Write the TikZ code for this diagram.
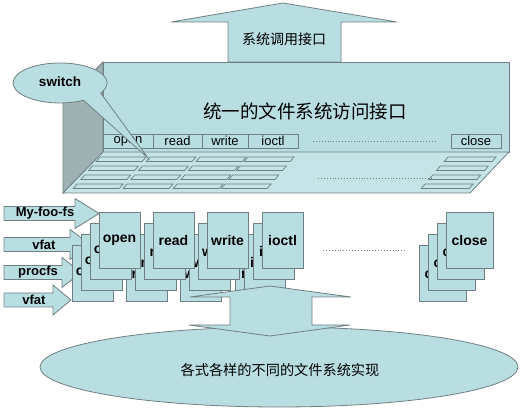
\documentclass[tikz,border=0pt]{standalone}
\usepackage{fontspec}
\setmainfont{Liberation Sans}
\newfontfamily\cjkf{Noto Sans CJK SC}
\usetikzlibrary{calc}
\definecolor{face}{RGB}{185,222,226}
\definecolor{sidec}{RGB}{158,178,180}
\definecolor{edgec}{RGB}{112,128,130}
\definecolor{floorc}{RGB}{196,228,231}
\tikzset{
  shp/.style={fill=face, draw=edgec, line width=0.8pt},
  slot/.style={fill=floorc, draw=edgec, line width=0.7pt},
  fnbox/.style={fill=face, draw=edgec, line width=0.8pt, inner sep=0pt, minimum height=14pt, font=\fontsize{13}{13}\selectfont},
  card/.style={fill=face, draw=edgec, line width=0.8pt, inner sep=0pt, minimum height=56pt, font=\bfseries\fontsize{14}{14}\selectfont},
  arrlbl/.style={inner sep=0pt, font=\bfseries\fontsize{13}{13}\selectfont},
  dots/.style={draw=edgec, dotted, line width=0.9pt}
}
\begin{document}
\begin{tikzpicture}[x=1pt,y=-1pt]
\useasboundingbox (0,0) rectangle (523,409);
% top up arrow
\draw[shp] (283,3) -- (397,22) -- (341,22) -- (341,62) -- (228,62) -- (228,22) -- (171,22) -- cycle;
\node[font=\cjkf\fontsize{14}{14}\selectfont] (syscall) at (284,39) {系统调用接口};
% box
\draw[fill=sidec, draw=edgec, line width=0.8pt] (103,62) -- (63,102) -- (63,193) -- (103,152) -- cycle;
\draw[shp] (103,62) rectangle (509,152);
\draw[fill=floorc, draw=edgec, line width=0.8pt] (103,152) -- (509,152) -- (470,193) -- (63,193) -- cycle;
\foreach \t in {157,166,175,184}{
  \foreach \x in {100,150,200,248}{
    \draw[slot] ({\x-(\t-157)*0.85},\t) -- ++(46,0) -- ++(-3.8,4.5) -- ++(-46,0) -- cycle;
  }
  \draw[slot] ({448-(\t-157)*0.85},\t) -- ++(48,0) -- ++(-3.8,4.5) -- ++(-48,0) -- cycle;
}
\node[font=\cjkf\fontsize{18.5}{18.5}\selectfont] (title) at (305,111) {统一的文件系统访问接口};
\node[fnbox, minimum width=50pt] (fopen) at (128,141) {open};
\node[fnbox, minimum width=49pt] (fread) at (177.5,141) {read};
\node[fnbox, minimum width=46pt] (fwrite) at (225,141) {write};
\node[fnbox, minimum width=50pt] (fioctl) at (273,141) {ioctl};
\node[fnbox, minimum width=50pt] (fclose) at (476,141) {close};
\coordinate (d1a) at (313,141); \coordinate (d1b) at (435,141);
\draw[dots] (d1a) -- (d1b);
\coordinate (d2a) at (318,178); \coordinate (d2b) at (432,178);
\draw[dots] (d2a) -- (d2b);
% switch callout
\draw[shp] (148,158) -- (83.5,100.3) arc[start angle=60, end angle=390, x radius=47, y radius=20] -- cycle;
\node[font=\bfseries\fontsize{13.5}{13.5}\selectfont] (switch) at (60,82) {switch};
% left arrows
\foreach \c/\b/\tp/\lab/\lx/\n in {213.5/75/99/My-foo-fs/45/a1, 244.5/70/90/vfat/44/a2, 272.5/62/81/procfs/38/a3, 300/53/71/vfat/34/a4}{
  \draw[shp] (4,\c-7) -- (\b,\c-7) -- (\b,\c-15) -- (\tp,\c) -- (\b,\c+15) -- (\b,\c+7) -- (4,\c+7) -- cycle;
  \node[arrlbl] (\n) at (\lx,\c) {\lab};
}
% card stacks
\foreach \k in {3,2,1,0}{
  \foreach \x/\w/\t in {99/41/open, 153/41/read, 207/41/write, 262/41/ioctl, 446/47/close}{
    \node[card, minimum width=\w pt] (c-\t-\k) at ({\x-9*\k+\w/2},{240+11*\k}) {\t};
  }
}
\coordinate (d3a) at (323,250); \coordinate (d3b) at (405,250);
\draw[dots] (d3a) -- (d3b);
% bottom ellipse
\draw[shp] (279,367) ellipse [x radius=239, y radius=40];
\node[font=\cjkf\fontsize{14.2}{14.2}\selectfont] (impl) at (280,370) {各式各样的不同的文件系统实现};
% double arrow
\draw[shp] (270,286) -- (351,297) -- (312,297) -- (312,325) -- (350,325) -- (270,336) -- (189,325) -- (230,325) -- (230,297) -- (190,297) -- cycle;
\end{tikzpicture}
\end{document}
